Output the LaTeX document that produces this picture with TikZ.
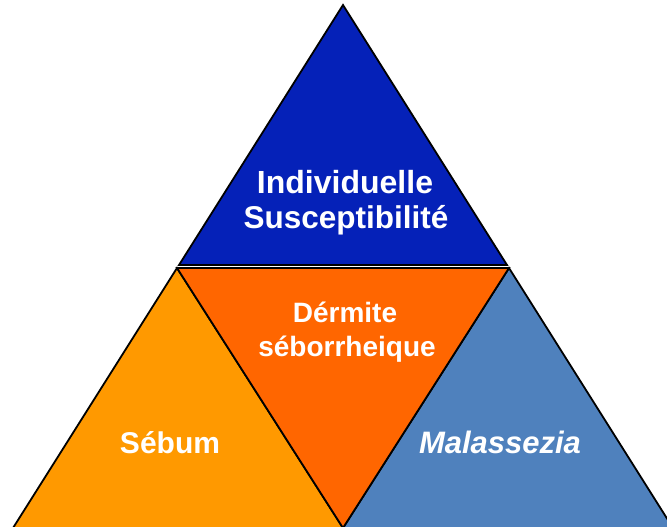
\documentclass[tikz,border=0pt]{standalone}
\usepackage{fontspec}
\setmainfont{Liberation Sans}
\usepackage{xcolor}
\usepackage{tikz}

\definecolor{topblue}{HTML}{0521B8}
\definecolor{midorange}{HTML}{FF6600}
\definecolor{leftorange}{HTML}{FF9900}
\definecolor{rightblue}{HTML}{4F81BD}

\begin{document}
\begin{tikzpicture}[x=1pt,y=-1pt,
  part/.style={draw=black, line width=1.8pt, line join=miter},
  lbl/.style={text=white, font=\bfseries, anchor=base, inner sep=0pt, align=center}]
\useasboundingbox (0,0) rectangle (667,527);
\clip (0,0) rectangle (667,527);
% corners
\coordinate (apex) at (343,5);
\coordinate (bl) at (179,265);
\coordinate (br) at (507,265);
\coordinate (ml) at (177,268);
\coordinate (mr) at (509,268);
\coordinate (mb) at (343,528);
\coordinate (cl) at (13,528);
\coordinate (cr) at (673,528);
% pieces
\filldraw[part, fill=leftorange] (ml) -- (mb) -- (cl) -- cycle;
\filldraw[part, fill=rightblue] (mr) -- (cr) -- (mb) -- cycle;
\filldraw[part, fill=midorange] (ml) -- (mr) -- (mb) -- cycle;
\filldraw[part, fill=topblue] (apex) -- (br) -- (bl) -- cycle;
% labels
\node[lbl, font=\bfseries\fontsize{32}{37}\selectfont] (ind) at (345,193) {Individuelle};
\node[lbl, font=\bfseries\fontsize{31.5}{36}\selectfont] (sus) at (346,228) {Susceptibilité};
\node[lbl, font=\bfseries\fontsize{28}{33}\selectfont] (der) at (345,322) {Dérmite};
\node[lbl, font=\bfseries\fontsize{28}{33}\selectfont] (seb) at (347,356) {séborrheique};
\node[lbl, font=\bfseries\fontsize{30}{35}\selectfont] (sebum) at (170,453) {Sébum};
\node[lbl, font=\bfseries\itshape\fontsize{31}{36}\selectfont] (mal) at (500,453) {Malassezia};
\end{tikzpicture}
\end{document}
